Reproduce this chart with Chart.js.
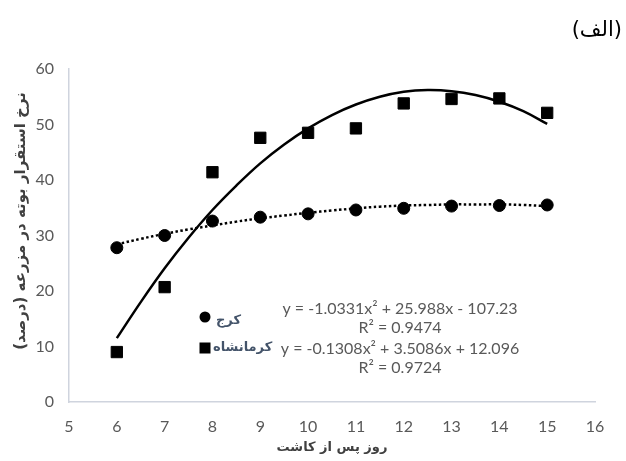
<!DOCTYPE html>
<html>
<head>
<meta charset="utf-8">
<script src="https://cdn.jsdelivr.net/npm/chart.js@4"></script>
<style>
  body { margin: 0; background: #fff; }
  canvas { display: block; }
</style>
</head>
<body>
<canvas id="grafico" width="626" height="461"></canvas>
<script>
// داده‌ها
const days = [6, 7, 8, 9, 10, 11, 12, 13, 14, 15];
const karaj = [27.8, 30.0, 32.6, 33.3, 33.9, 34.6, 34.9, 35.3, 35.4, 35.5];
const kermanshah = [9.0, 20.7, 41.4, 47.6, 48.5, 49.3, 53.8, 54.6, 54.7, 52.1];

// trend curves
const trendDays = [6, 6.5, 7, 7.5, 8, 8.5, 9, 9.5, 10, 10.5, 11, 11.5, 12, 12.5, 13, 13.5, 14, 14.5, 15];
const karajTrend = [28.4, 29.4, 30.3, 31.1, 31.8, 32.5, 33.1, 33.6, 34.1, 34.5, 34.9, 35.2, 35.4, 35.5, 35.6, 35.6, 35.6, 35.5, 35.3];
const kermanshahTrend = [11.5, 18.0, 24.1, 29.6, 34.6, 39.0, 43.0, 46.4, 49.3, 51.7, 53.6, 55.0, 55.9, 56.2, 56.0, 55.3, 54.1, 52.4, 50.1];

const seriesNames = ["کرج", "کرمانشاه"];
const equations = [
  ["y = -1.0331x² + 25.988x - 107.23", "R² = 0.9474"],
  ["y = -0.1308x² + 3.5086x + 12.096", "R² = 0.9724"]
];
const chartTitle = "(الف)";
const xTitle = "روز پس از کاشت";
const yTitle = "نرخ استقرار بوته در مزرعه (درصد)";

const toPoints = (xs, ys) => xs.map((x, i) => ({ x, y: ys[i] }));

const tickFont = { family: "Lato, 'DejaVu Sans', sans-serif", size: 16 };
const arabicFont = "'DejaVu Sans', sans-serif";
const axisColor = "#cfd4de";

const annotations = {
  id: "annotations",
  afterDraw(chart) {
    const ctx = chart.ctx;
    ctx.save();
    // title
    ctx.fillStyle = "#000";
    ctx.font = "21px " + arabicFont;
    ctx.textAlign = "right";
    ctx.textBaseline = "middle";
    ctx.fillText(chartTitle, 622, 31);

    // y axis title
    ctx.save();
    ctx.translate(21, 221);
    ctx.rotate(-Math.PI / 2);
    ctx.fillStyle = "#404040";
    ctx.font = "bold 15px " + arabicFont;
    ctx.textAlign = "center";
    ctx.fillText(yTitle, 0, 0);
    ctx.restore();

    // legend
    ctx.fillStyle = "#000";
    ctx.beginPath();
    ctx.arc(205, 317, 5.5, 0, Math.PI * 2);
    ctx.fill();
    ctx.fillRect(199.5, 342.5, 11, 11);
    ctx.fillStyle = "#44546a";
    ctx.font = "bold 13px " + arabicFont;
    ctx.textAlign = "left";
    ctx.fillText(seriesNames[0], 216, 321);
    ctx.fillText(seriesNames[1], 213, 348);

    // equations
    ctx.fillStyle = "#595959";
    ctx.font = "16px Lato, sans-serif";
    ctx.textAlign = "center";
    ctx.fillText(equations[0][0], 400, 309);
    ctx.fillText(equations[0][1], 400, 328);
    ctx.fillText(equations[1][0], 400, 349);
    ctx.fillText(equations[1][1], 400, 368);
    ctx.restore();
  }
};

new Chart(document.getElementById("grafico"), {
  type: "scatter",
  data: {
    datasets: [
      {
        label: seriesNames[0],
        data: toPoints(days, karaj),
        pointStyle: "circle",
        pointRadius: 6,
        backgroundColor: "#000",
        borderColor: "#000",
        order: 0
      },
      {
        label: seriesNames[1],
        data: toPoints(days, kermanshah),
        pointStyle: "rect",
        pointRadius: 8,
        backgroundColor: "#000",
        borderColor: "#000",
        order: 0
      },
      {
        label: "trend " + seriesNames[0],
        data: toPoints(trendDays, karajTrend),
        showLine: true,
        pointRadius: 0,
        borderColor: "#000",
        borderWidth: 2.5,
        borderDash: [2.5, 2.5],
        tension: 0.4,
        order: 1
      },
      {
        label: "trend " + seriesNames[1],
        data: toPoints(trendDays, kermanshahTrend),
        showLine: true,
        pointRadius: 0,
        borderColor: "#000",
        borderWidth: 2.5,
        tension: 0.4,
        order: 1
      }
    ]
  },
  options: {
    responsive: false,
    animation: false,
    layout: { padding: { top: 69, right: 31, left: 0, bottom: 0 } },
    plugins: {
      legend: { display: false },
      tooltip: { enabled: false }
    },
    scales: {
      x: {
        type: "linear",
        min: 5,
        max: 16,
        afterFit: s => { s.height = 59; },
        ticks: { stepSize: 1, color: "#595959", font: tickFont, padding: 15 },
        grid: { display: false, drawTicks: false },
        border: { display: true, color: axisColor, width: 1.5 },
        title: {
          display: true,
          text: xTitle,
          color: "#404040",
          font: { family: arabicFont, size: 13, weight: "bold" },
          padding: { top: 0, bottom: 6 }
        }
      },
      y: {
        min: 0,
        max: 60,
        afterFit: s => { s.width = 69; },
        ticks: { stepSize: 10, color: "#595959", font: tickFont, padding: 15 },
        grid: { display: false, drawTicks: false },
        border: { display: true, color: axisColor, width: 1.5 }
      }
    }
  },
  plugins: [annotations]
});
</script>
</body>
</html>
